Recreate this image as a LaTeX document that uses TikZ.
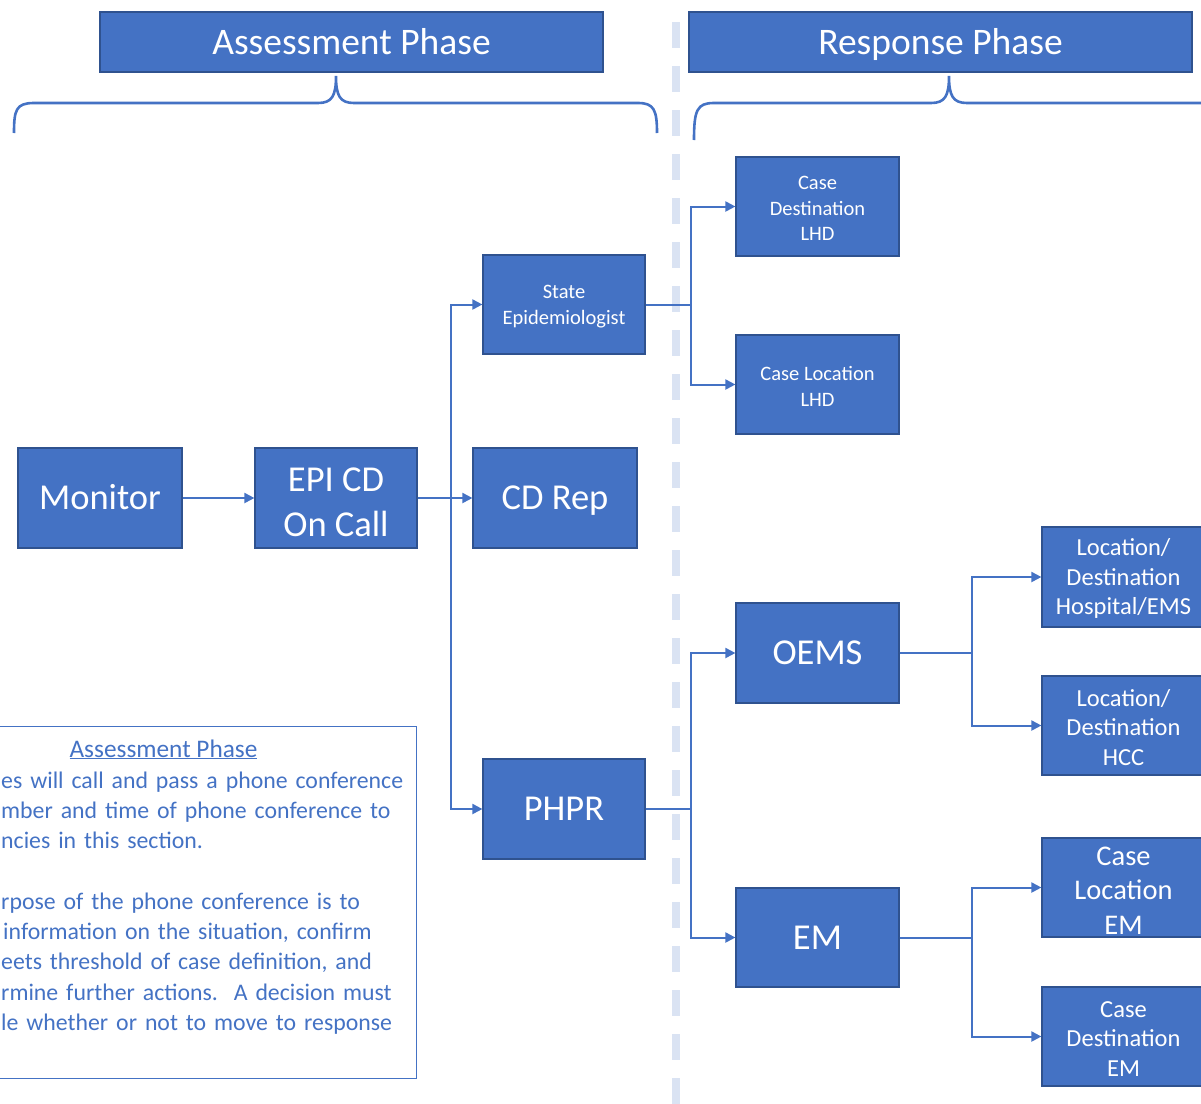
\documentclass[tikz,border=0pt]{standalone}
\usepackage{fontspec}
\setmainfont{Carlito}
\usetikzlibrary{arrows.meta}
\definecolor{boxblue}{HTML}{4472C4}
\definecolor{boxedge}{HTML}{2F528F}
\definecolor{dashblue}{HTML}{DAE3F3}
\newcommand{\topgap}{\rule{0pt}{0.7\baselineskip}}
\begin{document}
\begin{tikzpicture}[x=1pt,y=-1pt,
    box/.style={draw=boxedge,line width=1.2pt,fill=boxblue,text=white,
      minimum width=163pt,minimum height=100pt,inner sep=0pt,align=center},
    head/.style={box,minimum width=503pt,minimum height=60pt,
      font=\fontsize{37.5}{45}\selectfont,text height=24.5pt,text depth=0pt},
    big/.style={font=\fontsize{36.5}{45}\selectfont},
    one/.style={big,text height=23.5pt,text depth=0pt},
    mid/.style={font=\fontsize{24.5}{29.5}\selectfont},
    small/.style={font=\fontsize{20.5}{25.5}\selectfont},
    link/.style={draw=boxblue,line width=2pt},
    brace/.style={draw=boxblue,line width=2.6pt},
    note/.style={text=boxblue,inner sep=0pt,font=\fontsize{23.8}{30.3}\selectfont},
    >={Triangle[length=10pt,width=10pt]}]
  \clip (0,0) rectangle (1201,1103);
  % phase separator
  \draw[dashblue,line width=8pt,dash pattern=on 26pt off 18pt] (676,22) -- (676,1110);
  % headers and braces
  \node[head] (assess) at (351.5,42) {Assessment Phase};
  \node[head] (response) at (940.5,42) {Response Phase};
  \draw[brace] (14,133) .. controls (14,110) and (16,103) .. (34,103) -- (318,103)
    .. controls (332,103) and (336,96) .. (336,76)
    .. controls (336,96) and (340,103) .. (354,103) -- (638,103)
    .. controls (654,103) and (657,110) .. (657,133);
  \draw[brace] (694,140) .. controls (694,110) and (697,103) .. (714,103) -- (931,103)
    .. controls (945,103) and (949,96) .. (949,76)
    .. controls (949,96) and (953,103) .. (967,103) -- (1215,103);
  % assessment phase
  \node[box,one,minimum width=164pt] (monitor) at (100,498) {Monitor};
  \node[box,big,minimum width=162pt] (epi) at (336,498) {\topgap EPI CD\\On Call};
  \node[box,small,minimum width=162pt,minimum height=99pt] (state) at (564,304.5) {\topgap State\\Epidemiologist};
  \node[box,one,minimum width=164pt] (cdrep) at (555,498) {CD Rep};
  \node[box,one,minimum width=162pt] (phpr) at (564,809) {PHPR};
  % response phase
  \node[box,small,minimum height=99pt] (cdlhd) at (817.5,206.5) {\topgap Case\\Destination\\LHD};
  \node[box,small,minimum height=99pt] (cllhd) at (817.5,384.5) {\topgap Case Location\\LHD};
  \node[box,one] (oems) at (817.5,653) {OEMS};
  \node[box,one,minimum height=99pt] (em) at (817.5,937.5) {EM};
  \node[box,mid] (hosp) at (1123.5,577) {\topgap Location/\\Destination\\Hospital/EMS};
  \node[box,mid,minimum height=99pt] (hcc) at (1123.5,725.5) {\topgap Location/\\Destination\\HCC};
  \node[box,font=\fontsize{28.5}{34.5}\selectfont,minimum height=99pt] (clem) at (1123.5,887.5) {\topgap Case\\Location\\EM};
  \node[box,mid,minimum height=99pt] (cdem) at (1123.5,1036.5) {\topgap Case\\Destination\\EM};
  % links
  \draw[link,->] (monitor) -- (epi);
  \draw[link,->] (epi) -- (cdrep);
  \draw[link,->] (epi.east) -- ++(33,0) |- (state.west);
  \draw[link,->] (epi.east) -- ++(33,0) |- (phpr.west);
  \draw[link,->] (state.east) -- ++(45,0) |- (cdlhd.west);
  \draw[link,->] (state.east) -- ++(45,0) |- (cllhd.west);
  \draw[link,->] (phpr.east) -- ++(45,0) |- (oems.west);
  \draw[link,->] (phpr.east) -- ++(45,0) |- (em.west);
  \draw[link,->] (oems.east) -- ++(72,0) |- (hosp.west);
  \draw[link,->] (oems.east) -- ++(72,0) |- (hcc.west);
  \draw[link,->] (em.east) -- ++(72,0) |- (clem.west);
  \draw[link,->] (em.east) -- ++(72,0) |- (cdem.west);
  % note box
  \node[draw=boxblue,line width=1pt,minimum width=430pt,minimum height=352pt,anchor=north east] (notebox) at (417,726) {};
  \node[note,font=\fontsize{25.3}{30.3}\selectfont,anchor=base] (notetitle) at (163.5,757) {\underline{Assessment Phase}};
  \node[note,anchor=base west,text width=410pt,align=left] (notebody) at (1,788)
    {es will call and pass a phone conference\\
     mber and time of phone conference to\\
     ncies in this section.\\[30.3pt]
     rpose of the phone conference is to\\
     \hspace*{2pt}information on the situation, confirm\\
     eets threshold of case definition, and\\
     rmine further actions.\ \ A decision must\\
     le whether or not to move to response};
\end{tikzpicture}
\end{document}
